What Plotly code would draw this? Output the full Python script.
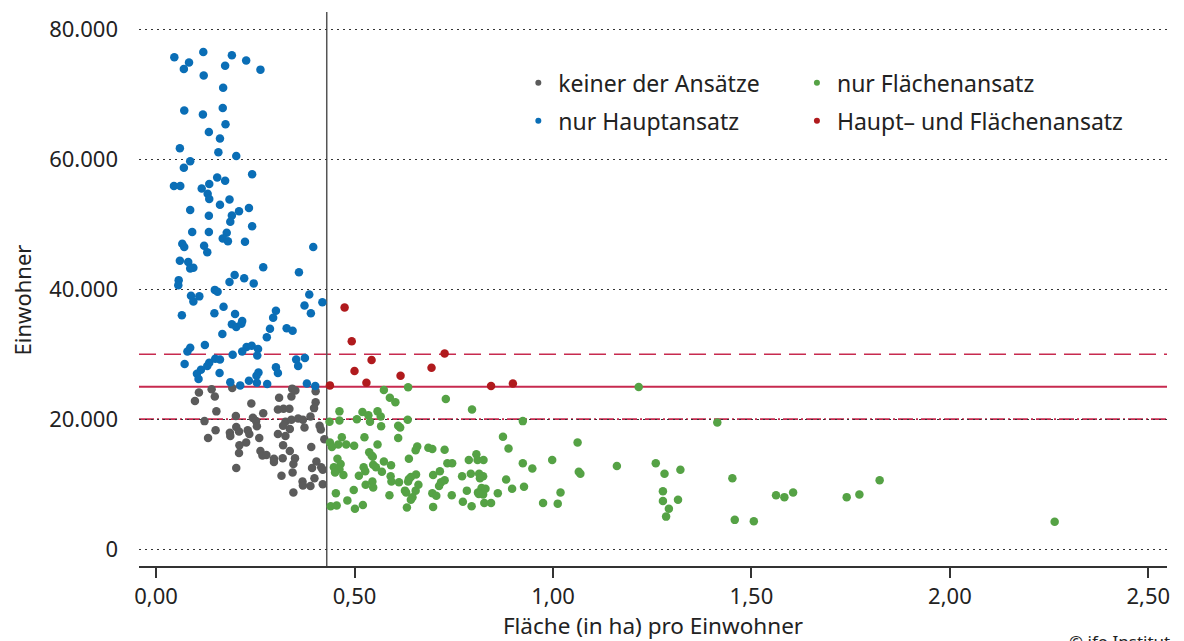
import plotly.graph_objects as go

# ---------------- data ----------------
grey_x = [0.108, 0.140, 0.148, 0.098, 0.192, 0.343, 0.341, 0.351, 0.310, 0.402,
          0.402, 0.240, 0.152, 0.398, 0.307, 0.321, 0.336, 0.270, 0.201, 0.244,
          0.389, 0.122, 0.252, 0.326, 0.341, 0.358, 0.370, 0.337, 0.320, 0.254,
          0.202, 0.374, 0.412, 0.415, 0.150, 0.209, 0.186, 0.231, 0.235, 0.187,
          0.307, 0.326, 0.131, 0.260, 0.424, 0.227, 0.210, 0.320, 0.391, 0.337,
          0.263, 0.209, 0.268, 0.278, 0.297, 0.297, 0.319, 0.350, 0.404, 0.346,
          0.393, 0.416, 0.202, 0.344, 0.420, 0.316, 0.399, 0.369, 0.370, 0.389,
          0.420, 0.346]
grey_y = [24100, 24600, 23500, 22800, 24800, 24700, 23500, 24400, 23300, 24300,
          22600, 22400, 21200, 21700, 21500, 21600, 21600, 20900, 20500, 20200,
          20400, 19700, 19700, 19600, 19900, 20100, 19900, 18500, 19000, 18900,
          18800, 18700, 19000, 18400, 18300, 18100, 17900, 18300, 17700, 17400,
          17700, 17400, 17100, 17100, 16900, 16400, 16000, 16000, 15700, 15100,
          15100, 14800, 14400, 14500, 13900, 13400, 14000, 14000, 13500, 13100,
          12500, 12600, 12500, 11800, 12200, 11300, 10900, 10400, 9800, 9700,
          10000, 8700]

blue_x = [0.046, 0.119, 0.191, 0.227, 0.083, 0.070, 0.174, 0.263, 0.120, 0.169,
          0.071, 0.118, 0.168, 0.175, 0.133, 0.161, 0.060, 0.157, 0.202, 0.086,
          0.070, 0.242, 0.154, 0.174, 0.045, 0.061, 0.115, 0.134, 0.130, 0.134,
          0.161, 0.185, 0.086, 0.133, 0.191, 0.209, 0.234, 0.187, 0.091, 0.133,
          0.242, 0.178, 0.168, 0.181, 0.224, 0.066, 0.071, 0.121, 0.129, 0.396,
          0.060, 0.081, 0.086, 0.094, 0.270, 0.360, 0.198, 0.222, 0.185, 0.246,
          0.057, 0.056, 0.148, 0.155, 0.386, 0.088, 0.109, 0.094, 0.419, 0.374,
          0.170, 0.302, 0.065, 0.147, 0.199, 0.390, 0.295, 0.217, 0.191, 0.202,
          0.215, 0.287, 0.329, 0.344, 0.167, 0.279, 0.123, 0.086, 0.079, 0.228,
          0.241, 0.257, 0.217, 0.255, 0.193, 0.072, 0.134, 0.129, 0.149, 0.161,
          0.353, 0.375, 0.358, 0.302, 0.307, 0.113, 0.103, 0.107, 0.160, 0.258,
          0.253, 0.187, 0.234, 0.254, 0.280, 0.212, 0.380, 0.401]
blue_y = [75700, 76500, 76000, 75200, 74900, 73900, 74400, 73800, 72900, 71000,
          67500, 66900, 67900, 65400, 64200, 63200, 61700, 61100, 60500, 59700,
          58700, 57700, 57200, 56700, 55900, 55900, 55500, 56200, 54700, 53900,
          53000, 53800, 52200, 51300, 51350, 52000, 52500, 50400, 48800, 48800,
          49700, 48700, 47800, 47400, 47300, 47000, 46500, 46700, 45700, 46500,
          44400, 44200, 43200, 43300, 43400, 42600, 42200, 41700, 41100, 40900,
          41400, 40600, 39900, 39600, 39200, 39000, 38900, 38100, 38000, 37500,
          37300, 36700, 36000, 36300, 36200, 36300, 35600, 35100, 34600, 34200,
          34700, 33900, 34000, 33600, 33100, 32600, 31400, 31000, 30400, 31100,
          31300, 30800, 30400, 29800, 29900, 28500, 28700, 28200, 29300, 29200,
          29200, 29400, 28200, 28000, 27100, 27600, 27000, 26200, 27100, 27200,
          26700, 25700, 25900, 25600, 25400, 25200, 25500, 25100]

green_x = [0.462, 0.462, 0.437, 0.468, 0.438, 0.443, 0.459, 0.479, 0.457, 0.465,
           0.448, 0.462, 0.472, 0.451, 0.453, 0.440, 0.455, 0.482, 0.574, 0.635,
           0.589, 0.603, 0.730, 0.796, 0.520, 0.535, 0.558, 0.566, 0.539, 0.506,
           0.634, 0.924, 0.567, 0.610, 0.615, 0.525, 0.610, 0.874, 0.499, 0.558,
           0.888, 1.062, 0.658, 0.654, 0.686, 0.696, 0.727, 0.537, 0.543, 0.546,
           0.637, 0.574, 0.788, 0.807, 0.810, 0.825, 0.734, 0.746, 0.924, 0.998,
           1.161, 0.948, 0.547, 0.554, 0.569, 0.592, 0.523, 0.527, 0.511, 0.591,
           0.655, 0.715, 0.698, 0.637, 0.593, 0.612, 0.635, 0.642, 0.727, 0.718,
           0.713, 0.771, 0.793, 0.814, 0.824, 0.816, 0.882, 1.065, 1.069, 0.545,
           0.528, 0.547, 0.661, 0.654, 0.627, 0.630, 0.498, 0.588, 0.646, 0.642,
           0.696, 0.706, 0.745, 0.783, 0.811, 0.820, 0.830, 0.824, 0.813, 0.861,
           0.897, 0.927, 1.019, 0.501, 0.521, 0.632, 0.698, 0.773, 0.795, 0.827,
           0.844, 0.975, 1.012, 1.216, 1.414, 1.259, 1.281, 1.321, 1.277, 1.277,
           1.315, 1.292, 1.285, 1.452, 1.458, 1.506, 1.562, 1.583, 1.605, 1.740,
           1.772, 1.823, 2.264]
green_y = [21200, 19800, 19600, 17200, 16400, 15700, 16100, 16100, 13900, 13100,
           12600, 12300, 11400, 11800, 8600, 6600, 6700, 7500, 24500, 24900,
           23300, 22600, 23100, 21500, 21100, 20600, 21200, 20400, 19600, 20000,
           19900, 19700, 18900, 19000, 18700, 17200, 17100, 17300, 15900, 16100,
           15500, 16400, 15800, 15200, 15600, 15400, 15300, 14900, 14400, 14200,
           13900, 13500, 13700, 14600, 13700, 13700, 13200, 13200, 13200, 13700,
           12800, 12400, 13000, 12600, 11900, 12900, 12600, 12000, 11300, 11200,
           11500, 12000, 11400, 10800, 10400, 10300, 10400, 11100, 10600, 10300,
           9700, 11200, 11600, 11600, 11200, 10900, 10700, 11900, 11600, 10400,
           9900, 9500, 9900, 9000, 9000, 8700, 9100, 8300, 8000, 7600,
           8600, 8200, 8300, 9000, 8700, 9400, 9300, 8400, 8500, 8600,
           9300, 9600, 8700, 6200, 6800, 6400, 6500, 7300, 6600, 7100,
           7100, 7100, 7000, 24950, 19500, 13200, 11600, 12200, 8900, 7400,
           7600, 6200, 5000, 10900, 4500, 4300, 8300, 8000, 8700, 8000,
           8400, 10600, 4200]

red_x = [0.438, 0.475, 0.493, 0.543, 0.500, 0.530, 0.616, 0.694, 0.727, 0.844, 0.899]
red_y = [25200, 37200, 32000, 29100, 27400, 25600, 26700, 27900, 30100, 25100, 25500]

series_names = ["keiner der Ansätze", "nur Hauptansatz",
                "nur Flächenansatz", "Haupt\u2013 und Flächenansatz"]
series_colors = ["#5b5b5b", "#0a6eb6", "#55a245", "#b01a1d"]

threshold_main = 25000
threshold_upper = 30000
threshold_lower = 20000
area_threshold = 0.43

x_ticks = [0, 0.5, 1.0, 1.5, 2.0, 2.5]
y_ticks = [0, 20000, 40000, 60000, 80000]

FONT = "Noto Sans"
TXT = "#222222"

fig = go.Figure()

groups = [(grey_x, grey_y), (blue_x, blue_y), (green_x, green_y), (red_x, red_y)]
for (gx, gy), name, col in zip(groups, series_names, series_colors):
    fig.add_trace(go.Scatter(x=gx, y=gy, mode="markers", name=name,
                             marker=dict(size=8.5, color=col, line=dict(width=0)),
                             showlegend=False, hoverinfo="skip"))

# legend entries (smaller dots, two columns)
legend_ids = ["legend", "legend", "legend2", "legend2"]
for i, (name, col, lg) in enumerate(zip(series_names, series_colors, legend_ids)):
    fig.add_trace(go.Scatter(x=[None], y=[None], mode="markers", name=name,
                             marker=dict(size=6, color=col), legend=lg,
                             legendgroup=f"g{i}", showlegend=True))

# reference lines
line_col = "#c72a4f"
fig.add_shape(type="line", xref="paper", yref="y", x0=0, x1=1,
              y0=threshold_upper, y1=threshold_upper, layer="below",
              line=dict(color=line_col, width=1.6, dash="17px,8px"))
fig.add_shape(type="line", xref="paper", yref="y", x0=0, x1=1,
              y0=threshold_main, y1=threshold_main, layer="below",
              line=dict(color=line_col, width=2))
fig.add_shape(type="line", xref="paper", yref="y", x0=0, x1=1,
              y0=threshold_lower, y1=threshold_lower, layer="below",
              line=dict(color=line_col, width=1.6, dash="15px,3px,2px,3px"))
fig.add_shape(type="line", xref="x", yref="paper", x0=area_threshold, x1=area_threshold,
              y0=0, y1=1, layer="below", line=dict(color="#555555", width=1.5))

fig.add_annotation(text="© ifo Institut", xref="paper", yref="paper",
                   x=0.903, y=-0.112, xanchor="left", yanchor="top",
                   showarrow=False, font=dict(family=FONT, size=17, color=TXT))

# y-axis title placed as a rotated label
fig.add_annotation(text="Einwohner", xref="paper", yref="paper",
                   x=-0.1135, y=0.48, xanchor="center", yanchor="middle",
                   textangle=-90, showarrow=False,
                   font=dict(family=FONT, size=22, color=TXT))

fig.update_layout(
    width=1184, height=641,
    margin=dict(l=139, r=17, t=12, b=72),
    paper_bgcolor="white", plot_bgcolor="white",
    separators=",.",
    font=dict(family=FONT, size=22, color=TXT),
    xaxis=dict(range=[-0.043, 2.547], tickvals=x_ticks, tickformat=".2f",
               showgrid=False, zeroline=False, showline=True,
               linecolor="#333333", linewidth=2, ticks="outside", ticklen=10,
               tickwidth=2, tickcolor="#333333",
               tickfont=dict(size=22, color=TXT),
               title=dict(text="Fläche (in ha) pro Einwohner",
                          font=dict(size=22.5, color=TXT), standoff=3)),
    yaxis=dict(range=[-2600, 82670], tickvals=y_ticks, tickformat=",d",
               showgrid=True, gridcolor="#333333", gridwidth=1.3,
               griddash="1.5px,4.5px",
               zeroline=False, showline=False, ticks="",
               ticklabelstandoff=20,
               tickfont=dict(size=22, color=TXT)),
    legend=dict(x=0.369, y=0.911, xanchor="left", yanchor="top",
                bgcolor="rgba(0,0,0,0)", font=dict(size=23, color=TXT),
                tracegroupgap=5, itemwidth=30),
    legend2=dict(x=0.640, y=0.911, xanchor="left", yanchor="top",
                 bgcolor="rgba(0,0,0,0)", font=dict(size=23, color=TXT),
                 tracegroupgap=5, itemwidth=30),
)

fig.write_html("out.html")
